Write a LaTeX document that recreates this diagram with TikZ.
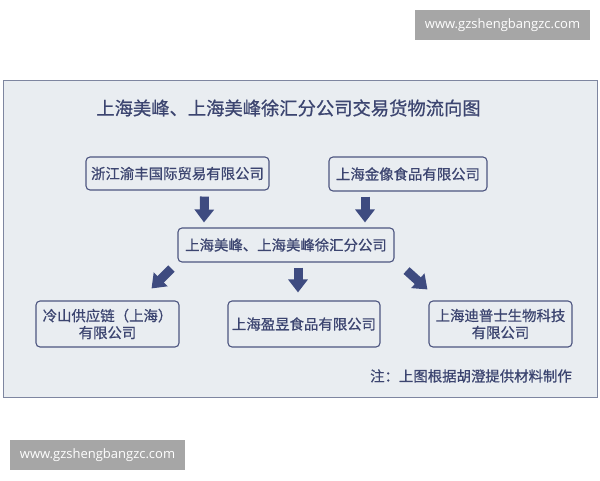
\documentclass[tikz,border=0pt]{standalone}
\usepackage{fontspec}
\setmainfont{Noto Sans CJK SC}[FakeBold=0.7]
\newfontfamily\wmfont{Open Sans}
\usetikzlibrary{arrows.meta}
\definecolor{framebg}{HTML}{E9EDF1}
\definecolor{frameline}{HTML}{7E86A0}
\definecolor{boxline}{HTML}{4D5580}
\definecolor{txt}{HTML}{3C4570}
\definecolor{arrowc}{HTML}{3E4B80}
\definecolor{wmgray}{HTML}{A6A6A6}
\tikzset{
  company/.style={draw=boxline, line width=1.1pt, rounded corners=4pt, fill=framebg,
    text=txt, inner sep=0pt, align=center, font=\fontsize{14.4}{17}\selectfont},
  blockarrow/.style={draw=arrowc, line width=9pt, -{Triangle[width=19pt,length=13pt]}},
  watermark/.style={fill=wmgray, text=white, inner sep=0pt, font=\wmfont\fontsize{13}{15}\selectfont}
}
\begin{document}
\begin{tikzpicture}[x=1pt,y=-1pt]
\useasboundingbox (0,0) rectangle (600,480);
% frame
\node[draw=frameline, line width=1pt, fill=framebg, minimum width=594pt, minimum height=317pt, inner sep=0pt] (frame) at (300,238.5) {};
% watermarks
\node[watermark, minimum width=175pt, minimum height=30pt] (wm1) at (502.5,25) {www.gzshengbangzc.com};
\node[watermark, minimum width=175pt, minimum height=30pt] (wm2) at (97.5,455) {www.gzshengbangzc.com};
% title
\node[text=txt, font=\fontsize{18.3}{21}\selectfont, inner sep=0pt] (title) at (288.5,108) {上海美峰、上海美峰徐汇分公司交易货物流向图};
% boxes
\node[company, minimum width=183pt, minimum height=33pt] (a) at (177.5,173.5) {浙江渝丰国际贸易有限公司};
\node[company, minimum width=158pt, minimum height=34pt] (b) at (408,174) {上海金像食品有限公司};
\node[company, minimum width=216pt, minimum height=34pt] (m) at (286,245) {上海美峰、上海美峰徐汇分公司};
\node[company, minimum width=143pt, minimum height=46pt] (l) at (107.5,324) {冷山供应链（上海）\\有限公司};
\node[company, minimum width=152pt, minimum height=46pt] (c) at (304,324) {上海盈昱食品有限公司};
\node[company, minimum width=143pt, minimum height=46pt] (r) at (500.5,324) {上海迪普士生物科技\\有限公司};
% note
\node[text=txt, font=\fontsize{14.4}{17}\selectfont, inner sep=0pt, anchor=east] (note) at (572,376) {注：上图根据胡澄提供材料制作};
% arrows
\draw[blockarrow] ([shift={(27,6)}]a.south) -- ([shift={(-82,-5)}]m.north);
\draw[blockarrow] ([shift={(-43,5)}]b.south) -- ([shift={(79,-5)}]m.north);
\draw[blockarrow] ([shift={(-6,6)}]m.south west) -- ([shift={(-28,-12)}]l.north east);
\draw[blockarrow] ([shift={(12,5)}]m.south) -- ([shift={(-6,-8)}]c.north);
\draw[blockarrow] ([shift={(12,8)}]m.south east) -- ([shift={(-1,-11)}]r.north west);
\end{tikzpicture}
\end{document}
